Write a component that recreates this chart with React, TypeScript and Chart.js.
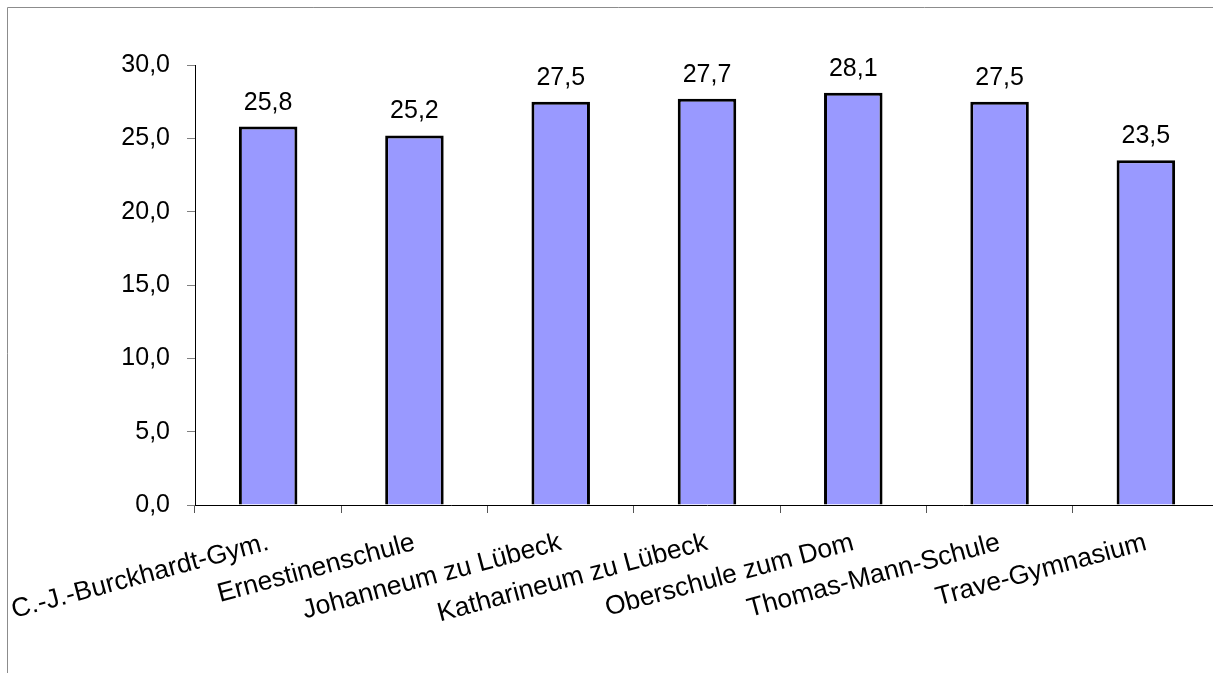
import React, { useEffect, useRef } from "react";
import { Chart, registerables } from "chart.js";

Chart.register(...registerables);

const categories = [
  "C.-J.-Burckhardt-Gym.",
  "Ernestinenschule",
  "Johanneum zu Lübeck",
  "Katharineum zu Lübeck",
  "Oberschule zum Dom",
  "Thomas-Mann-Schule",
  "Trave-Gymnasium",
];
const values = [25.8, 25.2, 27.5, 27.7, 28.1, 27.5, 23.5];
const yTicks = [0, 5, 10, 15, 20, 25, 30];

const FONT = "'Liberation Sans', Arial, sans-serif";
const FS = 25;
const FSX = 26.5;
const fmt = (v: number) => v.toFixed(1).replace(".", ",");

const framePlugin = {
  id: "frame",
  beforeDraw(chart: any) {
    const ctx = chart.ctx;
    ctx.save();
    ctx.strokeStyle = "#8c8c8c";
    ctx.lineWidth = 1;
    ctx.beginPath();
    ctx.moveTo(7.5, chart.height);
    ctx.lineTo(7.5, 7.5);
    ctx.lineTo(chart.width, 7.5);
    ctx.stroke();
    ctx.restore();
  },
};

const valueLabels = {
  id: "valueLabels",
  afterDatasetsDraw(chart: any) {
    const ctx = chart.ctx;
    const meta = chart.getDatasetMeta(0);
    ctx.save();
    ctx.fillStyle = "#000";
    ctx.font = `${FS}px ${FONT}`;
    ctx.textAlign = "center";
    ctx.textBaseline = "alphabetic";
    meta.data.forEach((bar: any, i: number) => {
      ctx.fillText(fmt(values[i]), bar.x, bar.y - 17);
    });
    ctx.restore();
  },
};

export default function App() {
  const ref = useRef<HTMLCanvasElement>(null);
  useEffect(() => {
    if (!ref.current) return;
    const chart = new Chart(ref.current, {
      type: "bar",
      data: {
        labels: categories,
        datasets: [
          {
            data: values,
            backgroundColor: "#9999FF",
            borderColor: "#000000",
            borderWidth: 3,
            categoryPercentage: 1,
            barPercentage: 0.4,
          },
        ],
      },
      options: {
        animation: false,
        responsive: false,
        maintainAspectRatio: false,
        layout: { padding: { left: 85, top: 65, right: 11, bottom: 0 } },
        plugins: {
          legend: { display: false },
          tooltip: { enabled: false },
        },
        scales: {
          x: {
            afterFit: (s: any) => {
              s.height = 195;
              s.paddingLeft = 0;
              s.paddingRight = 0;
            },
            grid: {
              offset: true,
              drawOnChartArea: false,
              drawTicks: true,
              tickLength: 8,
              color: "#555",
            },
            border: { color: "#000", width: 1 },
            ticks: {
              color: "#000",
              font: { family: FONT, size: FSX },
              minRotation: 15,
              maxRotation: 15,
              autoSkip: false,
              padding: 14,
            },
          },
          y: {
            min: 0,
            max: 30,
            afterFit: (s: any) => {
              s.width = 110;
              s.paddingTop = 0;
              s.paddingBottom = 0;
            },
            afterBuildTicks: (s: any) => {
              s.ticks = yTicks.map((v) => ({ value: v }));
            },
            grid: {
              drawOnChartArea: false,
              drawTicks: true,
              tickLength: 8,
              color: "#808080",
            },
            border: { color: "#000", width: 1 },
            ticks: {
              color: "#000",
              font: { family: FONT, size: FS },
              padding: 17,
              callback: (v: any) => fmt(Number(v)),
            },
          },
        },
      },
      plugins: [framePlugin, valueLabels],
    });
    return () => chart.destroy();
  }, []);
  return (
    <canvas
      ref={ref}
      width={1230}
      height={700}
      style={{ position: "fixed", left: 0, top: 0, width: 1230, height: 700 }}
    />
  );
}
